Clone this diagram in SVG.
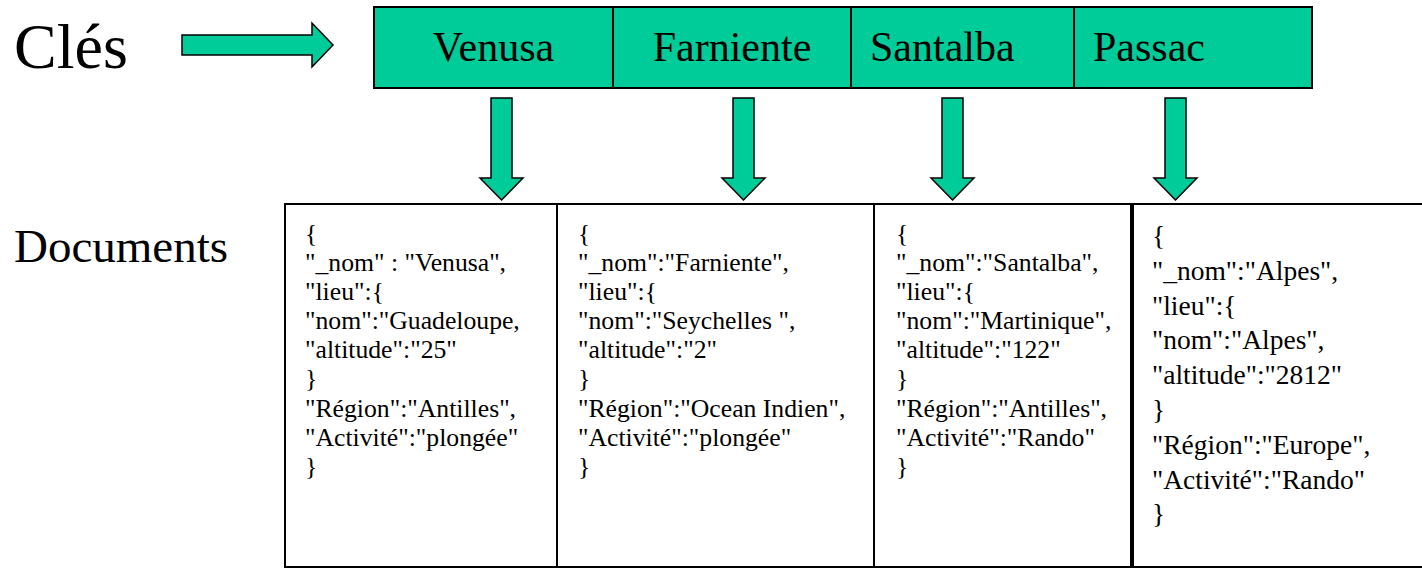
<svg xmlns="http://www.w3.org/2000/svg" width="1422" height="570" viewBox="0 0 1422 570">
<style>
text{font-family:"Liberation Serif","Times New Roman",serif;fill:#000}
.lbl{font-size:64px}
.lbl2{font-size:47px}
.key rect{fill:#00CC99;stroke:#000;stroke-width:2}
.key text{font-size:42px}
.doc rect{fill:#fff;stroke:#000;stroke-width:2}
.doc text{font-size:25.7px}
.doc4 text{font-size:27.5px}
.arr{fill:#00CC99;stroke:#000;stroke-width:1.5;stroke-linejoin:miter}
</style>
<rect width="1422" height="570" fill="#fff"/>
<g id="label-cles"><text class="lbl" x="14" y="68">Clés</text></g>
<g id="label-documents"><text class="lbl2" x="14" y="262">Documents</text></g>
<g id="key-venusa" class="key"><rect x="374" y="7" width="239" height="81"/><text x="493.5" y="61" text-anchor="middle">Venusa</text></g>
<g id="key-farniente" class="key"><rect x="613" y="7" width="238" height="81"/><text x="732" y="61" text-anchor="middle">Farniente</text></g>
<g id="key-santalba" class="key"><rect x="851" y="7" width="223" height="81"/><text x="870" y="61">Santalba</text></g>
<g id="key-passac" class="key"><rect x="1074" y="7" width="238" height="81"/><text x="1093" y="61">Passac</text></g>
<g id="connectors">
<path class="arr" d="M182,35 H312 V23 L333,45 L312,67 V55 H182 Z"/>
<path class="arr" d="M491,98 H512 V178 H523 L501.5,200 L480,178 H491 Z"/>
<path class="arr" d="M733,98 H754 V178 H765 L743.5,200 L722,178 H733 Z"/>
<path class="arr" d="M942,98 H963 V178 H974 L952.5,200 L931,178 H942 Z"/>
<path class="arr" d="M1165,98 H1186 V178 H1197 L1175.5,200 L1154,178 H1165 Z"/>
</g>
<g id="doc-venusa" class="doc"><rect x="285" y="204" width="272" height="363"/>
<text x="305"><tspan x="305" y="242">{</tspan><tspan x="305" y="271">"_nom" : "Venusa",</tspan><tspan x="305" y="300">"lieu":{</tspan><tspan x="305" y="329">"nom":"Guadeloupe,</tspan><tspan x="305" y="358">"altitude":"25"</tspan><tspan x="305" y="387">}</tspan><tspan x="305" y="417">"Région":"Antilles",</tspan><tspan x="305" y="446">"Activité":"plongée"</tspan><tspan x="305" y="475">}</tspan></text></g>
<g id="doc-farniente" class="doc"><rect x="557" y="204" width="317" height="363"/>
<text x="578"><tspan x="578" y="242">{</tspan><tspan x="578" y="271">"_nom":"Farniente",</tspan><tspan x="578" y="300">"lieu":{</tspan><tspan x="578" y="329">"nom":"Seychelles ",</tspan><tspan x="578" y="358">"altitude":"2"</tspan><tspan x="578" y="387">}</tspan><tspan x="578" y="417">"Région":"Ocean Indien",</tspan><tspan x="578" y="446">"Activité":"plongée"</tspan><tspan x="578" y="475">}</tspan></text></g>
<g id="doc-santalba" class="doc"><rect x="874" y="204" width="257" height="363"/>
<text x="896"><tspan x="896" y="242">{</tspan><tspan x="896" y="271">"_nom":"Santalba",</tspan><tspan x="896" y="300">"lieu":{</tspan><tspan x="896" y="329">"nom":"Martinique",</tspan><tspan x="896" y="358">"altitude":"122"</tspan><tspan x="896" y="387">}</tspan><tspan x="896" y="417">"Région":"Antilles",</tspan><tspan x="896" y="446">"Activité":"Rando"</tspan><tspan x="896" y="475">}</tspan></text></g>
<g id="doc-alpes" class="doc doc4"><rect x="1133" y="204" width="300" height="363"/>
<text x="1152"><tspan x="1152" y="245">{</tspan><tspan x="1152" y="280">"_nom":"Alpes",</tspan><tspan x="1152" y="315">"lieu":{</tspan><tspan x="1152" y="349">"nom":"Alpes",</tspan><tspan x="1152" y="384">"altitude":"2812"</tspan><tspan x="1152" y="419">}</tspan><tspan x="1152" y="454">"Région":"Europe",</tspan><tspan x="1152" y="489">"Activité":"Rando"</tspan><tspan x="1152" y="523">}</tspan></text></g>
</svg>
